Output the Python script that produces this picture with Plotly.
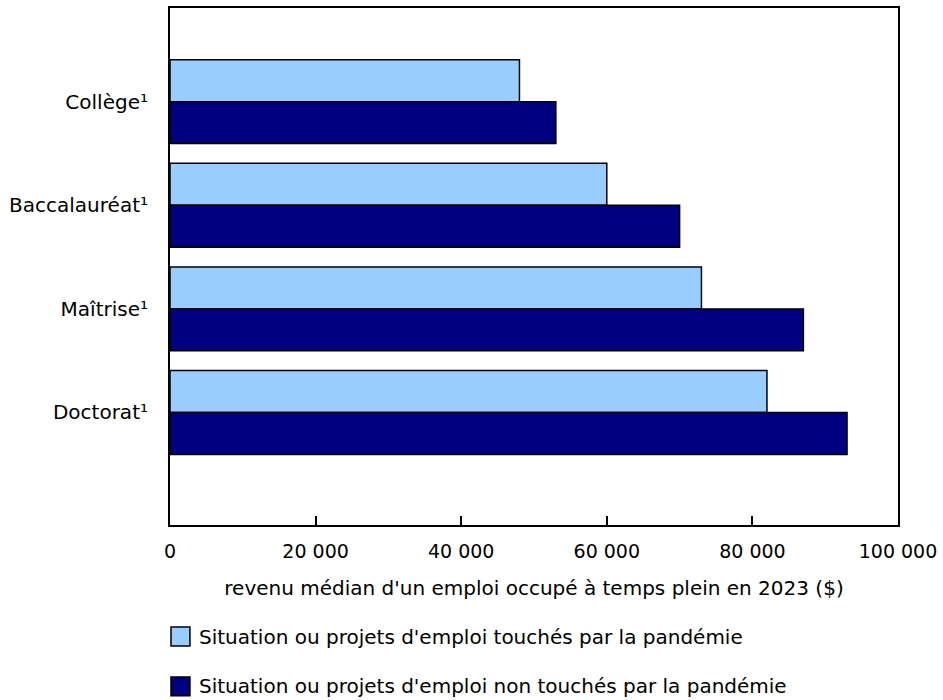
import plotly.graph_objects as go

LIGHT = "#99CCFF"
DARK = "#000080"
INK = "#000000"
FONT = "DejaVu Sans, Verdana, sans-serif"
FS = 20

niveaux = ["Collège¹", "Baccalauréat¹", "Maîtrise¹", "Doctorat¹"]
touches = [48000, 60000, 73000, 82000]
non_touches = [53000, 70000, 87000, 93000]
noms = [
    "Situation ou projets d'emploi touchés par la pandémie",
    "Situation ou projets d'emploi non touchés par la pandémie",
]
x_ticks = [0, 20000, 40000, 60000, 80000, 100000]
x_labels = ["0", "20 000", "40 000", "60 000", "80 000", "100 000"]
x_title = "revenu médian d'un emploi occupé à temps plein en 2023 ($)"

fig = go.Figure()
for vals, color, nom in [(touches, LIGHT, noms[0]), (non_touches, DARK, noms[1])]:
    fig.add_trace(go.Bar(
        y=niveaux, x=vals, orientation="h", name=nom,
        marker=dict(color=color, line=dict(color=INK, width=1.5)),
        showlegend=False,
    ))

# légende dessinée à la main (carrés plus grands que ceux de plotly)
PH = 519  # hauteur de la zone de tracé
PW = 730
for i, (nom, color) in enumerate(zip(noms, [LIGHT, DARK])):
    yc = 1 - (637 + 50 * i - 6) / PH
    fig.add_shape(
        type="rect", xref="paper", yref="paper",
        x0=1 / PW, x1=20 / PW, y0=yc - 9.5 / PH, y1=yc + 9.5 / PH,
        fillcolor=color, line=dict(color=INK, width=1.5),
    )
    fig.add_annotation(
        xref="paper", yref="paper", x=27 / PW, y=yc, text=nom,
        showarrow=False, xanchor="left", yanchor="middle",
        font=dict(family=FONT, size=FS, color=INK),
    )

fig.update_layout(
    width=943, height=700,
    margin=dict(l=170, r=43, t=6, b=175),
    barmode="group", bargap=0.19, bargroupgap=0,
    plot_bgcolor="white", paper_bgcolor="white",
    font=dict(family=FONT, size=FS, color=INK),
)
fig.update_xaxes(
    range=[0, 100000], tickvals=x_ticks, ticktext=x_labels,
    tickfont=dict(size=19),
    ticks="inside", ticklen=9, tickwidth=1.5, tickcolor=INK,
    showline=True, linecolor=INK, linewidth=2, mirror=True,
    showgrid=False, zeroline=False, ticklabelstandoff=8,
    title=dict(text=x_title, standoff=20, font=dict(size=FS)),
)
fig.update_yaxes(
    type="category", categoryorder="array", categoryarray=niveaux,
    range=[4.086, -0.904], ticks="", showline=True, linecolor=INK,
    linewidth=2, mirror=True, showgrid=False, ticklabelstandoff=16,
)

fig.write_html(
    "out.html",
    config={"displayModeBar": False},
    post_script="document.body.style.margin='0';",
)
